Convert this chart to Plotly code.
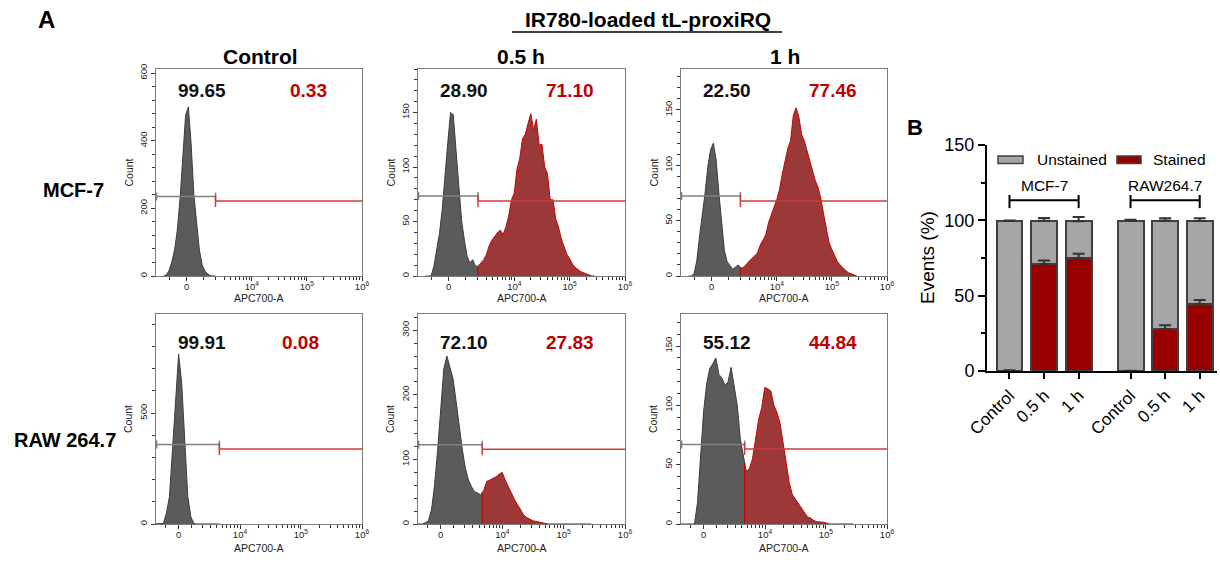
import numpy as np
import plotly.graph_objects as go

W, H = 1220, 562
FONT = "Liberation Sans, Arial, Helvetica, sans-serif"

# ---------------- Panel A : flow-cytometry histograms ----------------
# display channel on the biexponential APC700-A scale (decades)
CH = [2.40, 2.45, 2.50, 2.55, 2.60, 2.65, 2.70, 2.75, 2.80, 2.85,
      2.90, 2.95, 3.00, 3.05, 3.10, 3.15, 3.20, 3.25, 3.30, 3.35,
      3.40, 3.45, 3.50, 3.55, 3.60, 3.65, 3.70, 3.75, 3.80, 3.85,
      3.90, 3.95, 4.00, 4.05, 4.10, 4.15, 4.20, 4.25, 4.30, 4.35,
      4.40, 4.45, 4.50, 4.55, 4.60, 4.65, 4.70, 4.75, 4.80, 4.85,
      4.90, 4.95, 5.00, 5.05, 5.10, 5.15, 5.20, 5.25, 5.30, 5.35,
      5.40, 5.45]

MCF7_CONTROL = [0, 3, 16, 42, 77, 136, 230, 370, 475, 500,
                390, 240, 150, 77, 33, 15, 6, 1, 0, 0,
                0, 0, 0, 0, 0, 0, 0, 0, 0, 0,
                0, 0, 0, 0, 0, 0, 0, 0, 0, 0,
                0, 0, 0, 0, 0, 0, 0, 0, 0, 0,
                0, 0, 0, 0, 0, 0, 0, 0, 0, 0,
                0, 0]
MCF7_05H = [0, 0, 0, 9, 24, 39, 61, 94, 122, 150,
            148, 115, 82, 51, 33, 18, 12, 15, 9, 9,
            12, 15, 20, 28, 33, 37, 40, 42, 38, 45,
            55, 70, 76, 98, 108, 126, 130, 140, 149, 134,
            144, 120, 121, 100, 94, 70, 70, 52, 45, 34,
            26, 20, 16, 11, 8, 6, 4, 3, 2, 1,
            0, 0]
MCF7_1H = [0, 0, 2, 14, 36, 54, 75, 99, 114, 120,
           105, 75, 48, 23, 13, 10, 6, 8, 10, 7,
           8, 11, 13, 16, 18, 21, 28, 33, 37, 48,
           56, 62, 69, 78, 92, 103, 115, 122, 145, 152,
           144, 128, 122, 113, 104, 96, 86, 80, 70, 56,
           42, 30, 24, 18, 13, 10, 7, 5, 3, 2,
           1, 0]
RAW_CONTROL = [0, 0, 0, 0, 0, 0, 0, 2, 48, 124,
               335, 577, 766, 637, 350, 124, 33, 2, 0, 0,
               0, 0, 0, 0, 0, 0, 0, 0, 0, 0,
               0, 0, 0, 0, 0, 0, 0, 0, 0, 0,
               0, 0, 0, 0, 0, 0, 0, 0, 0, 0,
               0, 0, 0, 0, 0, 0, 0, 0, 0, 0,
               0, 0]
RAW_05H = [0, 0, 0, 0, 0, 0, 0, 2, 5, 22,
           60, 115, 175, 240, 260, 243, 225, 190, 150, 116,
           87, 68, 58, 50, 48, 45, 52, 66, 68, 70,
           73, 77, 80, 68, 58, 46, 38, 30, 22, 14,
           10, 7, 5, 4, 3, 1, 0, 0, 0, 0,
           0, 0, 0, 0, 0, 0, 0, 0, 0, 0,
           0, 0]
RAW_1H = [0, 0, 0, 0, 0, 0, 0, 0, 0, 0,
          18, 58, 95, 118, 131, 135, 140, 126, 123, 117,
          120, 132, 116, 100, 72, 57, 44, 47, 55, 70,
          88, 98, 115, 114, 112, 100, 94, 85, 70, 52,
          35, 25, 21, 17, 13, 9, 6, 5, 3, 2,
          2, 1.5, 1, 0, 0, 0, 0, 0, 0, 0,
          0, 0]

HIST = [[MCF7_CONTROL, MCF7_05H, MCF7_1H], [RAW_CONTROL, RAW_05H, RAW_1H]]
COL_TITLES = ["Control", "0.5 h", "1 h"]
ROW_TITLES = ["MCF-7", "RAW 264.7"]
UNSTAINED_PCT = [["99.65", "28.90", "22.50"], ["99.91", "72.10", "55.12"]]
STAINED_PCT = [["0.33", "71.10", "77.46"], ["0.08", "27.83", "44.84"]]
GATE_POS = [[3.343, 3.346, 3.340], [3.667, 3.676, 3.671]]
GATE_NEG_LEVEL = [[235, 73.4, 72.3], [358, 122.6, 67.0]]
GATE_POS_LEVEL = [[222, 68.8, 67.8], [338, 115.5, 63.3]]
COUNT_MAX = [[612, 190, 187], [947, 325, 177]]
COUNT_DTICK = [[200, 50, 50], [500, 100, 50]]
COUNT_MINOR = [[40, 10, 10], [100, 20, 10]]
BIEX_WIDTH = [656, 1000]
X_RANGE = [[2.263, 6.0], [2.63, 6.0]]
X_TICK_MAJOR = [0, 1e4, 1e5, 1e6]
X_TICK_TEXT = ["0", "10<sup>4</sup>", "10<sup>5</sup>", "10<sup>6</sup>"]
X_TICK_MINOR = ([-1000] + [1000 * k for k in range(1, 10)]
                + [1e4 * k for k in range(2, 10)] + [1e5 * k for k in range(2, 10)])

# ---------------- Panel B : stacked bars ----------------
CONDITIONS = ["Control", "0.5 h", "1 h"]
CELL_LINES = ["MCF-7", "RAW264.7"]
STAINED = [0.33, 71.1, 74.8, 0.08, 27.9, 44.5]
UNSTAINED = [99.3, 28.6, 24.6, 99.7, 71.9, 55.1]
STAINED_ERR = [0.1, 2.2, 3.0, 0.05, 2.4, 2.6]
TOTAL_ERR = [0.3, 1.8, 2.8, 0.6, 1.6, 1.8]


def biex(v, w):
    return np.log10(w) + np.arcsinh(np.asarray(v, float) / (2 * w)) / np.log(10)


def px(x):
    return x / W


def py(y):
    return 1 - y / H


X_DOM = [(156, 362), (418, 625), (681, 887)]
Y_DOM = [(69, 276), (314, 524)]

fig = go.Figure()
annotations = []
shapes = []
layout = {}

GRAY_FILL, GRAY_LINE = "#5b5b5b", "#3c3c3c"
RED_FILL, RED_LINE = "#9c3838", "#cc0000"


def ann(x, y, text, size, color="#000", bold=False, angle=0, xanchor="center", xref="paper", yref="paper"):
    if bold:
        text = "<b>" + text + "</b>"
    annotations.append(dict(x=x, y=y, xref=xref, yref=yref, text=text, showarrow=False,
                            textangle=angle, xanchor=xanchor, yanchor="middle",
                            font=dict(family=FONT, size=size, color=color)))


for r in range(2):
    for c in range(3):
        n = r * 3 + c + 1
        xr = "x" if n == 1 else f"x{n}"
        yr = "y" if n == 1 else f"y{n}"
        x = np.array(CH, float)
        y = np.array(HIST[r][c], float)
        g = GATE_POS[r][c]
        yg = float(np.interp(g, x, y))
        m = x < g
        gx = np.concatenate([[x[m][0]], x[m], [g, g]])
        gy = np.concatenate([[0], y[m], [yg, 0]])
        fig.add_trace(go.Scatter(x=gx, y=gy, mode="lines", fill="toself", fillcolor=GRAY_FILL,
                                 line=dict(color=GRAY_LINE, width=1), xaxis=xr, yaxis=yr,
                                 hoverinfo="skip", showlegend=False))
        if y[~m].max() > 0:
            rx = np.concatenate([[g, g], x[~m], [x[~m][-1]]])
            ry = np.concatenate([[0, yg], y[~m], [0]])
            fig.add_trace(go.Scatter(x=rx, y=ry, mode="lines", fill="toself", fillcolor=RED_FILL,
                                     line=dict(color=RED_LINE, width=1), xaxis=xr, yaxis=yr,
                                     hoverinfo="skip", showlegend=False))

        w = BIEX_WIDTH[r]
        x0p, x1p = X_DOM[c]
        y0p, y1p = Y_DOM[r]
        xa = "xaxis" if n == 1 else f"xaxis{n}"
        ya = "yaxis" if n == 1 else f"yaxis{n}"
        layout[xa] = dict(
            domain=[px(x0p), px(x1p)], anchor=yr, range=X_RANGE[r], automargin=False,
            tickmode="array", tickvals=list(biex(X_TICK_MAJOR, w)), ticktext=X_TICK_TEXT,
            ticks="outside", ticklen=4, tickwidth=1, tickcolor="#333", ticklabelstandoff=-2,
            showline=True, linecolor="#7a7a7a", linewidth=1, mirror=True,
            showgrid=False, zeroline=False,
            tickfont=dict(family=FONT, size=9.5, color="#222"),
            minor=dict(tickmode="array", tickvals=list(biex(X_TICK_MINOR, w)), ticks="outside",
                       ticklen=3, tickwidth=1, tickcolor="#333", showgrid=False))
        layout[ya] = dict(
            domain=[py(y1p), py(y0p)], anchor=xr, range=[0, COUNT_MAX[r][c]], automargin=False,
            tickmode="linear", tick0=0, dtick=COUNT_DTICK[r][c], tickangle=-90,
            ticks="outside", ticklen=4, tickwidth=1, tickcolor="#333",
            showline=True, linecolor="#7a7a7a", linewidth=1, mirror=True,
            showgrid=False, zeroline=False,
            tickfont=dict(family=FONT, size=9.5, color="#222"),
            minor=dict(tick0=0, dtick=COUNT_MINOR[r][c], ticks="outside", ticklen=3,
                       tickwidth=1, tickcolor="#333", showgrid=False))

        # gate markers
        lvn, lvp = GATE_NEG_LEVEL[r][c], GATE_POS_LEVEL[r][c]
        xmin, xmax = X_RANGE[r]
        gl = dict(color="#808080", width=1.5)
        rl = dict(color="#d03a3a", width=1.5)
        shapes.append(dict(type="line", xref=xr, yref=yr, x0=xmin, x1=g, y0=lvn, y1=lvn, line=gl))
        for xc in (xmin + 0.01, g):
            shapes.append(dict(type="line", xref=xr, yref=yr, x0=xc, x1=xc, ysizemode="pixel",
                               yanchor=lvn, y0=-4, y1=4, line=gl))
        shapes.append(dict(type="line", xref=xr, yref=yr, x0=g, x1=xmax, y0=lvp, y1=lvp, line=rl))
        shapes.append(dict(type="line", xref=xr, yref=yr, x0=g, x1=g, ysizemode="pixel",
                           yanchor=lvp, y0=-6, y1=6, line=rl))

        # texts
        ty = 91 if r == 0 else 342
        ann(px(x0p + 46), py(ty), UNSTAINED_PCT[r][c], 19, "#111", True)
        red_off = 144 if (r == 1 and c == 0) else 152
        ann(px(x0p + red_off), py(ty), STAINED_PCT[r][c], 19, "#c00000", True)
        ann(px(x0p - 28), py((y0p + y1p) / 2), "Count", 10.5, "#222", angle=-90)
        ann(px((x0p + x1p) / 2), py(298 if r == 0 else 548), "APC700-A", 10.5, "#222")

# column and row titles
for c, t in enumerate(COL_TITLES):
    ann(px([260, 521, 785][c]), py(56), t, 21, "#000", True)
for r, t in enumerate(ROW_TITLES):
    ann(px([73, 65][r]), py([190, 440][r]), t, 20, "#000", True)
ann(px(46), py(20), "A", 24, "#000", True)
ann(px(648), py(20), "IR780-loaded tL-proxiRQ", 21, "#000", True)
shapes.append(dict(type="line", xref="paper", yref="paper", x0=px(512), x1=px(782),
                   y0=py(32), y1=py(32), line=dict(color="#000", width=1.5)))

# ---------------- Panel B ----------------
POS = [gi * 3.5 + i for gi in range(len(CELL_LINES)) for i in range(len(CONDITIONS))]
TOTAL = [s + u for s, u in zip(STAINED, UNSTAINED)]
fig.add_trace(go.Bar(x=POS, y=STAINED, width=0.75, xaxis="x7", yaxis="y7", name="Stained",
                     marker=dict(color="#9a0000", line=dict(color="#404040", width=2)),
                     showlegend=False))
fig.add_trace(go.Bar(x=POS, y=UNSTAINED, width=0.75, xaxis="x7", yaxis="y7", name="Unstained",
                     marker=dict(color="#a6a6a6", line=dict(color="#404040", width=2)),
                     showlegend=False))
for yy, ee in ((STAINED, STAINED_ERR), (TOTAL, TOTAL_ERR)):
    fig.add_trace(go.Scatter(x=POS, y=yy, mode="markers", xaxis="x7", yaxis="y7",
                             marker=dict(size=1, color="rgba(0,0,0,0)"), showlegend=False,
                             error_y=dict(type="data", array=ee, arrayminus=[0] * len(ee),
                                          symmetric=False, color="#333333", thickness=2, width=6)))

layout["xaxis7"] = dict(domain=[px(987), px(1217)], anchor="y7", range=[-0.65, 6.0], automargin=False,
                        tickmode="array", tickvals=POS, ticktext=CONDITIONS * len(CELL_LINES),
                        tickangle=-45, ticks="outside", ticklen=6, tickwidth=2, tickcolor="#000",
                        showline=True, linecolor="#000", linewidth=2, showgrid=False, zeroline=False,
                        tickfont=dict(family=FONT, size=17, color="#000"))
layout["yaxis7"] = dict(domain=[py(371), py(145)], anchor="x7", range=[0, 150], automargin=False,
                        tickmode="array", tickvals=[0, 50, 100, 150], ticks="outside", ticklen=7,
                        tickwidth=2, tickcolor="#000", showline=True, linecolor="#000", linewidth=2,
                        showgrid=False, zeroline=False,
                        tickfont=dict(family=FONT, size=18, color="#000"),
                        minor=dict(tickmode="array", tickvals=[25, 75, 125], ticks="outside",
                                   ticklen=4, tickwidth=2, tickcolor="#000", showgrid=False))

for gi, label in enumerate(CELL_LINES):
    a, b = POS[gi * 3], POS[gi * 3 + 2]
    bl = dict(color="#000", width=2)
    shapes.append(dict(type="line", xref="x7", yref="y7", x0=a, x1=b, y0=113.4, y1=113.4, line=bl))
    for xc in (a, b):
        shapes.append(dict(type="line", xref="x7", yref="y7", x0=xc, x1=xc, y0=108.1, y1=116.8, line=bl))
    ann((a + b) / 2, 123, label, 15.5, "#000", xref="x7", yref="y7")

# legend
shapes.append(dict(type="rect", xref="paper", yref="paper", x0=px(998), x1=px(1023), y0=py(163.5),
                   y1=py(156), fillcolor="#a6a6a6", line=dict(color="#404040", width=1.5)))
shapes.append(dict(type="rect", xref="paper", yref="paper", x0=px(1117), x1=px(1141), y0=py(163.5),
                   y1=py(156), fillcolor="#9a0000", line=dict(color="#404040", width=1.5)))
ann(px(1035), py(160), "Unstained", 15.5, "#000", xanchor="left")
ann(px(1151), py(160), "Stained", 15.5, "#000", xanchor="left")
ann(px(927), py(258), "Events (%)", 19, "#000", angle=-90)
ann(px(915), py(128), "B", 22, "#000", True)

fig.update_layout(width=W, height=H, margin=dict(l=0, r=0, t=0, b=0, pad=0, autoexpand=False),
                  autosize=False,
                  paper_bgcolor="white", plot_bgcolor="white", barmode="stack",
                  showlegend=False, annotations=annotations, shapes=shapes,
                  font=dict(family=FONT), **layout)

fig.write_html("out.html", config={"displayModeBar": False},
               post_script="document.body.style.margin='0';document.body.style.overflow='hidden';")
